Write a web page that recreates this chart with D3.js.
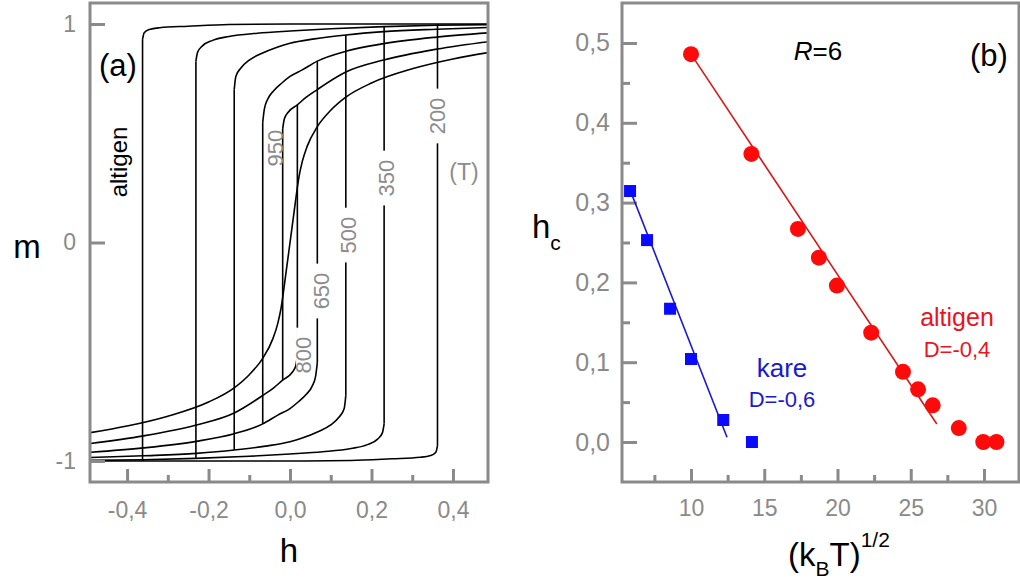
<!DOCTYPE html>
<html><head><meta charset="utf-8">
<script src="https://cdn.jsdelivr.net/npm/d3@7"></script>
<style>
body{margin:0;background:#fff}
svg{display:block}
text{font-family:"Liberation Sans",Arial,Helvetica,sans-serif}
</style>
</head><body>
<svg id="c" width="1020" height="585"></svg>
<script>
// ---------------- DATA ----------------
// Panel (a): hysteresis loops, upper (decreasing-field) branch,
// from h = -hc up to h = 0.49. The lower branch is its mirror image (h,m) -> (-h,-m).
const loopTemps = [200, 350, 500, 650, 800];
const loopHc    = [0.362, 0.231, 0.137, 0.067, 0.018];
const upper200 = [[-0.362,0.93],[-0.358,0.96],[-0.345,0.975],[-0.32,0.983],[-0.25,0.99],[-0.15,0.998],[0.0,1.0],[0.362,1.0],[0.49,1.0]];
const upper350 = [[-0.231,0.83],[-0.227,0.87],[-0.215,0.90],[-0.19,0.925],[-0.15,0.943],[-0.08,0.958],[0.0,0.968],[0.1,0.978],[0.231,0.988],[0.36,0.994],[0.49,0.997]];
const upper500 = [[-0.137,0.70],[-0.133,0.76],[-0.12,0.80],[-0.1,0.835],[-0.07,0.865],[-0.03,0.895],[0.0,0.912],[0.06,0.932],[0.137,0.95],[0.23,0.965],[0.36,0.976],[0.49,0.984]];
const upper650 = [[-0.067,0.55],[-0.063,0.61],[-0.055,0.655],[-0.04,0.695],[-0.02,0.73],[0.0,0.76],[0.03,0.79],[0.067,0.83],[0.137,0.875],[0.23,0.91],[0.36,0.94],[0.49,0.96]];
const upper800 = [[-0.018,0.52],[-0.014,0.565],[-0.005,0.595],[0.018,0.63],[0.04,0.665],[0.067,0.70],[0.137,0.78],[0.23,0.835],[0.36,0.885],[0.49,0.92]];
const upperBranches = [upper200, upper350, upper500, upper650, upper800];
// T = 950: no hysteresis, positive half of the S curve (negative half is its mirror)
const curve950Half = [[0,0],[0.01,0.14],[0.022,0.30],[0.03,0.37],[0.042,0.44],[0.067,0.53],[0.1,0.605],[0.137,0.665],[0.2,0.73],[0.3,0.795],[0.4,0.84],[0.49,0.87]];

const tempLabels = ["200","350","500","650","800","950"];
const tempLabelH = [0.361, 0.236, 0.142, 0.076, 0.032, -0.037];
const tempLabelM = [0.579, 0.295, 0.034, -0.222, -0.515, 0.432];

const hTicksMajor = [-0.4,-0.2,0,0.2,0.4];
const hTicksMinor = [-0.3,-0.1,0.1,0.3];
const mTicks = [-1,0,1];

// Panel (b): coercive field vs sqrt(kB T)
const kareX = [5.84, 7.0, 8.57, 10.0, 12.2, 14.16];
const kareY = [0.3145, 0.253, 0.167, 0.104, 0.0276, 0.0];
const altigenX = [10.0, 14.12, 17.3, 18.73, 19.96, 22.3, 24.47, 25.5, 26.5, 28.28, 29.95, 30.85];
const altigenY = [0.486, 0.361, 0.267, 0.231, 0.196, 0.137, 0.088, 0.066, 0.046, 0.0175, 0.0, 0.0];
const kareFitX = [5.75, 12.46], kareFitY = [0.32, 0.006];
const altigenFitX = [10.0, 26.78], altigenFitY = [0.486, 0.0226];

const tTicksMajor = [10,15,20,25,30];
const tTicksMinor = [7.5,12.5,17.5,22.5,27.5];
const hcTicksMajor = [0,0.1,0.2,0.3,0.4,0.5];
const hcTicksMinor = [0.05,0.15,0.25,0.35,0.45];

// ---------------- DRAW ----------------
const svg = d3.select("#c");
const AX = "#8a8a8a";
const fmt1 = d => d.toFixed(1).replace(".", ",");

// Panel (a) scales
const xL = d3.scaleLinear().domain([-0.491, 0.486]).range([90, 488]);
const yL = d3.scaleLinear().domain([-1.0961, 1.0961]).range([482, 3]);

svg.append("clipPath").attr("id","clipA").append("rect")
  .attr("x",90).attr("y",3).attr("width",398).attr("height",479);

const gA = svg.append("g");
const curvesA = gA.append("g").attr("clip-path","url(#clipA)")
  .attr("fill","none").attr("stroke","#000").attr("stroke-width",1.6);

const lineA = d3.line().x(d=>xL(d[0])).y(d=>yL(d[1])).curve(d3.curveMonotoneX);
const straight = d3.line().x(d=>xL(d[0])).y(d=>yL(d[1]));
const mirror = p => [-p[0], -p[1]];

upperBranches.forEach((U, i) => {
  const hc = loopHc[i];
  const L = U.map(mirror).reverse();            // lower branch, h from -0.49 to +hc
  curvesA.append("path").attr("d", lineA(U));
  curvesA.append("path").attr("d", lineA(L));
  const atHc = U.find(p => Math.abs(p[0] - hc) < 1e-9);
  // jump on decreasing field at -hc, jump on increasing field at +hc
  curvesA.append("path").attr("d", straight([U[0], mirror(atHc)]));
  curvesA.append("path").attr("d", straight([L[L.length-1], atHc]));
});
const full950 = curve950Half.slice(1).map(mirror).reverse().concat(curve950Half);
curvesA.append("path").attr("d", lineA(full950));

// temperature labels
tempLabels.forEach((t, i) => {
  const g = gA.append("g").attr("transform", `translate(${xL(tempLabelH[i])},${yL(tempLabelM[i])}) rotate(-90)`);
  const r = g.append("rect").attr("fill","#fff");
  const tx = g.append("text").text(t).attr("text-anchor","middle").attr("dy","0.36em")
    .attr("font-size",22).attr("fill","#8c8c8c");
  const len = tx.node().getComputedTextLength();
  if (i < 5) r.attr("x",-len/2-9).attr("y",-7).attr("width",len+18).attr("height",14);
});
gA.append("text").text("(T)").attr("x",464).attr("y",180).attr("text-anchor","middle")
  .attr("font-size",23).attr("fill","#8c8c8c");

// frame + axes (a)
gA.append("rect").attr("x",90).attr("y",3).attr("width",398).attr("height",479)
  .attr("fill","none").attr("stroke",AX).attr("stroke-width",3);

function styleAxis(g){
  g.select(".domain").remove();
  g.selectAll(".tick line").attr("stroke",AX).attr("stroke-width",3);
  g.selectAll(".tick text").attr("fill",AX).attr("font-size",23)
    .attr("font-family",'"Liberation Sans",Arial,sans-serif');
}
gA.append("g").attr("transform","translate(0,482)")
  .call(d3.axisBottom(xL).tickValues(hTicksMajor).tickSize(-13).tickPadding(20).tickFormat(fmt1))
  .call(styleAxis);
gA.append("g").attr("transform","translate(0,482)")
  .call(d3.axisBottom(xL).tickValues(hTicksMinor).tickSize(-7).tickFormat(""))
  .call(styleAxis);
gA.append("g").attr("transform","translate(90,0)")
  .call(d3.axisLeft(yL).tickValues(mTicks).tickSize(-15).tickPadding(14).tickFormat(d=>String(d)))
  .call(styleAxis);

gA.append("text").text("m").attr("x",27).attr("y",258).attr("text-anchor","middle").attr("font-size",33).attr("fill","#000");
gA.append("text").text("h").attr("x",289).attr("y",562).attr("text-anchor","middle").attr("font-size",33).attr("fill","#000");
gA.append("text").text("(a)").attr("x",99).attr("y",76).attr("font-size",31).attr("fill","#000");
gA.append("text").text("altigen").attr("transform","translate(127,162) rotate(-90)")
  .attr("text-anchor","middle").attr("font-size",24).attr("fill","#000");

// Panel (b) scales
const xR = d3.scaleLinear().domain([5.29, 32.39]).range([622, 1019]);
const yR = d3.scaleLinear().domain([-0.0501, 0.5501]).range([482, 3]);
const gB = svg.append("g");

gB.append("rect").attr("x",622).attr("y",3).attr("width",397).attr("height",479)
  .attr("fill","none").attr("stroke",AX).attr("stroke-width",3);
gB.append("g").attr("transform","translate(0,482)")
  .call(d3.axisBottom(xR).tickValues(tTicksMajor).tickSize(-13).tickPadding(18).tickFormat(d=>String(d)))
  .call(styleAxis);
gB.append("g").attr("transform","translate(0,482)")
  .call(d3.axisBottom(xR).tickValues(tTicksMinor).tickSize(-7).tickFormat(""))
  .call(styleAxis);
gB.append("g").attr("transform","translate(622,0)")
  .call(d3.axisLeft(yR).tickValues(hcTicksMajor).tickSize(-15).tickPadding(12).tickFormat(fmt1))
  .call(g=>{styleAxis(g); g.selectAll(".tick text").attr("font-size",25);});
gB.append("g").attr("transform","translate(622,0)")
  .call(d3.axisLeft(yR).tickValues(hcTicksMinor).tickSize(-8).tickFormat(""))
  .call(styleAxis);

const lineB = d3.line().x(d=>xR(d[0])).y(d=>yR(d[1]));
gB.append("path").attr("d", lineB(d3.zip(kareFitX, kareFitY)))
  .attr("fill","none").attr("stroke","#1a1acc").attr("stroke-width",1.6);
gB.append("path").attr("d", lineB(d3.zip(altigenFitX, altigenFitY)))
  .attr("fill","none").attr("stroke","#d81818").attr("stroke-width",1.6);

gB.selectAll("rect.sq").data(d3.zip(kareX, kareY)).join("rect").attr("class","sq")
  .attr("x",d=>xR(d[0])-6).attr("y",d=>yR(d[1])-6).attr("width",12).attr("height",12)
  .attr("fill","#0a0aff");
gB.selectAll("circle.ci").data(d3.zip(altigenX, altigenY)).join("circle").attr("class","ci")
  .attr("cx",d=>xR(d[0])).attr("cy",d=>yR(d[1])).attr("r",8).attr("fill","#ff0a0a");

// annotations (b)
const rt = gB.append("text").attr("x",818).attr("y",60).attr("text-anchor","middle").attr("font-size",26).attr("fill","#000");
rt.append("tspan").text("R").attr("font-style","italic");
rt.append("tspan").text("=6");
gB.append("text").text("(b)").attr("x",989).attr("y",66).attr("text-anchor","middle").attr("font-size",31).attr("fill","#000");

gB.append("text").text("kare").attr("x",782).attr("y",377).attr("text-anchor","middle").attr("font-size",26).attr("fill","#1a1acc");
gB.append("text").text("D=-0,6").attr("x",782).attr("y",407).attr("text-anchor","middle").attr("font-size",22).attr("fill","#1a1acc");
gB.append("text").text("altigen").attr("x",957).attr("y",326).attr("text-anchor","middle").attr("font-size",25).attr("fill","#e8141e");
gB.append("text").text("D=-0,4").attr("x",957).attr("y",357).attr("text-anchor","middle").attr("font-size",22).attr("fill","#e8141e");

// axis titles (b)
const hc = gB.append("text").attr("x",532).attr("y",238).attr("font-size",33).attr("fill","#000");
hc.append("tspan").text("h");
hc.append("tspan").text("c").attr("font-size",21).attr("dy",12);
const kt = gB.append("text").attr("x",788).attr("y",566).attr("font-size",33).attr("fill","#000");
kt.append("tspan").text("(k");
kt.append("tspan").text("B").attr("font-size",21).attr("dy",10);
kt.append("tspan").text("T)").attr("dy",-10);
kt.append("tspan").text("1/2").attr("font-size",21).attr("dy",-19);
</script>
</body></html>
